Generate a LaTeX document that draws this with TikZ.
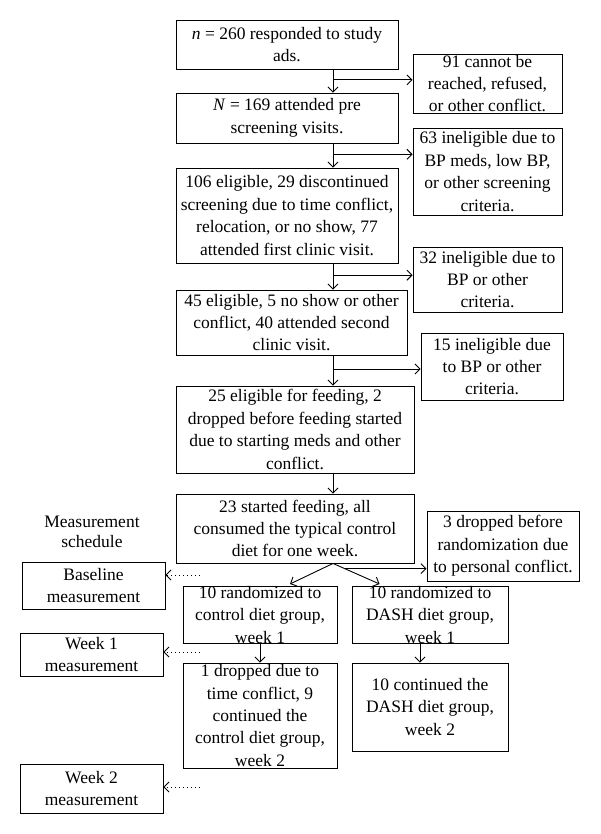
\documentclass[tikz,border=0pt]{standalone}
\usepackage{fontspec}
\setmainfont{Liberation Serif}
\usetikzlibrary{arrows.meta,calc}
\tikzset{
    box/.style={draw, line width=0.9pt, inner sep=0pt, align=center,
        font=\fontsize{17.5}{22.4}\selectfont},
    arr/.style={line width=0.9pt, -{Straight Barb[length=5pt,width=10pt]}},
    dotarr/.style={arr, dash pattern=on 1pt off 3pt}
}
\begin{document}
\begin{tikzpicture}[x=1pt,y=-1pt]
    \useasboundingbox (0,0) rectangle (600,834);
    % main column
    \node[box, minimum width=222pt, minimum height=49pt] (A) at (287,44.5)
        {\textit{n} = 260 responded to study\\ads.};
    \node[box, minimum width=222pt, minimum height=50pt] (B) at (287,118)
        {\textit{N} = 169 attended pre\\screening visits.};
    \node[box, minimum width=222pt, minimum height=95pt] (C) at (287,215.5)
        {106 eligible, 29 discontinued\\screening due to time conflict,\\relocation, or no show, 77\\attended first clinic visit.};
    \node[box, minimum width=231pt, minimum height=65pt] (D) at (291.5,322.5)
        {45 eligible, 5 no show or other\\conflict, 40 attended second\\clinic visit.};
    \node[box, minimum width=238pt, minimum height=87pt] (E) at (295,429.5)
        {25 eligible for feeding, 2\\dropped before feeding started\\due to starting meds and other\\conflict.};
    \node[box, minimum width=238pt, minimum height=69pt] (F) at (295,528.5)
        {23 started feeding, all\\consumed the typical control\\diet for one week.};
    % drop-outs
    \node[box, minimum width=149pt, minimum height=59pt] (S1) at (487.5,83.5)
        {91 cannot be\\reached, refused,\\or other conflict.};
    \node[box, minimum width=149pt, minimum height=87pt] (S2) at (487.5,171.5)
        {63 ineligible due to\\BP meds, low BP,\\or other screening\\criteria.};
    \node[box, minimum width=149pt, minimum height=65pt] (S3) at (487.5,279.5)
        {32 ineligible due to\\BP or other\\criteria.};
    \node[box, minimum width=142pt, minimum height=67pt] (S4) at (492,366.5)
        {15 ineligible due\\to BP or other\\criteria.};
    \node[box, minimum width=152pt, minimum height=70pt] (S5) at (503,546)
        {3 dropped before\\randomization due\\to personal conflict.};
    % diet groups
    \node[box, minimum width=154pt, minimum height=56pt] (G1) at (260,615)
        {10 randomized to\\control diet group,\\week 1};
    \node[box, minimum width=156pt, minimum height=56pt] (H1) at (430,615)
        {10 randomized to\\DASH diet group,\\week 1};
    \node[box, minimum width=154pt, minimum height=105pt] (G2) at (260,715.5)
        {1 dropped due to\\time conflict, 9\\continued the\\control diet group,\\week 2};
    \node[box, minimum width=156pt, minimum height=88pt] (H2) at (430,707)
        {10 continued the\\DASH diet group,\\week 2};
    % measurement schedule
    \node[align=center, font=\fontsize{17.5}{19.5}\selectfont] (sched) at (92,532)
        {Measurement\\schedule};
    \node[box, minimum width=143pt, minimum height=47pt] (L1) at (93.5,585.5)
        {Baseline\\measurement};
    \node[box, minimum width=143pt, minimum height=43pt] (L2) at (91.5,654.5)
        {Week 1\\measurement};
    \node[box, minimum width=143pt, minimum height=49pt] (L3) at (91.5,788.5)
        {Week 2\\measurement};
    % connectors
    \coordinate (sp) at (333,0);
    \foreach \u/\v/\s in {A/B/S1, B/C/S2, C/D/S3, D/E/S4} {
        \draw[arr] (\u.south -| sp) -- (\v.north -| sp);
        \coordinate (m\u) at ($(\u.south -| sp)!0.45!(\v.north -| sp)$);
        \draw[arr] (m\u) -- (m\u -| \s.west);
    }
    \draw[arr] (E.south -| sp) -- (F.north -| sp);
    \coordinate (apex) at (F.south -| sp);
    \coordinate (tG) at ($(G1.north)+(30,-2)$);
    \coordinate (tH) at ($(H1.north west)+(28,-2)$);
    \draw[arr] (apex) -- (tG);
    \draw[arr] (apex) -- (tH);
    \coordinate (mF) at ($(apex)!0.25!(tH)$);
    \draw[arr] (mF) -- (mF -| S5.west);
    \draw[arr] (G1.south) -- (G2.north);
    \draw[arr] ([xshift=-10pt]H1.south) -- ([xshift=-10pt]H2.north);
    % dotted pointers
    \foreach \l/\y in {L1/575, L2/652, L3/787} {
        \coordinate (d\l) at (200,\y);
        \draw[dotarr] (d\l) -- (d\l -| \l.east);
    }
\end{tikzpicture}
\end{document}
